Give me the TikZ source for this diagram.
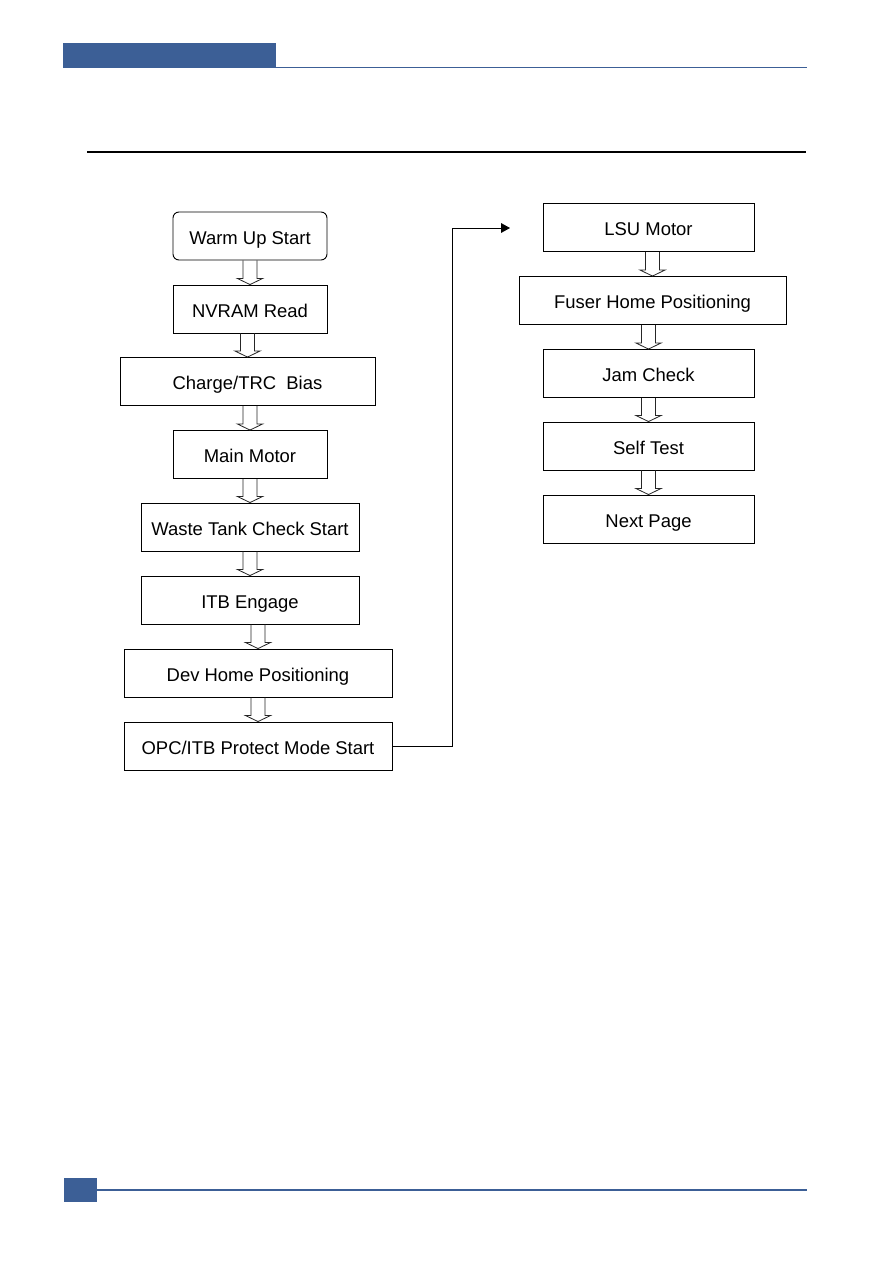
\documentclass[tikz,border=0pt]{standalone}
\usepackage{fontspec}
\setmainfont{Liberation Sans}
\usetikzlibrary{positioning,arrows.meta,calc}

\definecolor{hdrblue}{RGB}{60,95,150}
\newcommand{\px}{0.6667pt}
% hollow down arrow between two stacked boxes
\newcommand{\hollowstep}[2]{%
  \draw[hollow] let \p1=(#1.south), \p2=(#2.north) in
    (\x2-4.7pt,\y1) -- (\x2-4.7pt,\y2+4pt) -- (\x2-8.3pt,\y2+4pt) -- (\x2,\y2)
    -- (\x2+8.3pt,\y2+4pt) -- (\x2+4.7pt,\y2+4pt) -- (\x2+4.7pt,\y1);}

\begin{document}
\begin{tikzpicture}[
  x=0.6667pt,y=-0.6667pt,
  font=\fontsize{12.3}{14}\selectfont,
  stepbox/.style={draw=black,line width=.6pt,inner sep=0pt,minimum height=48*\px,
    text height=12pt,text depth=.8pt},
  startbox/.style={stepbox,rounded corners=4pt},
  hollow/.style={black!85,line width=.55pt},
  link/.style={-{Triangle[length=6pt,width=6.5pt]},black,line width=.6pt}
]
\useasboundingbox (0,0) rectangle (893,1263);
% page header and footer
\fill[hdrblue] (63,43) rectangle (276,68);
\draw[hdrblue,line width=1.3pt] (276,67.5) -- (807,67.5);
\draw[black,line width=.7pt] (87,152) -- (806,152);
\fill[hdrblue] (64,1178) rectangle (97,1202);
\draw[hdrblue,line width=1.3pt] (97,1190) -- (807,1190);

% left column
\node[startbox,minimum width=154*\px] (warm) at (250,236) {Warm Up Start};
\node[stepbox,minimum width=154*\px] (nvram) at (250,309) {NVRAM Read};
\node[stepbox,minimum width=255*\px] (charge) at (247.5,381.5) {Charge/TRC\ \ Bias};
\node[stepbox,minimum width=154*\px] (mainmotor) at (250,454.5) {Main\ Motor};
\node[stepbox,minimum width=218*\px] (waste) at (250,527) {Waste Tank Check Start};
\node[stepbox,minimum width=218*\px] (itb) at (250,600) {ITB Engage};
\node[stepbox,minimum width=268*\px] (devhome) at (258,673) {Dev Home Positioning};
\node[stepbox,minimum width=268*\px] (opc) at (258,746) {OPC/ITB Protect Mode Start};

% right column
\node[stepbox,minimum width=211*\px] (lsu) at (648.5,227.5) {LSU Motor};
\node[stepbox,minimum width=267*\px] (fuser) at (652.5,300.5) {Fuser Home Positioning};
\node[stepbox,minimum width=211*\px] (jam) at (648.5,373.5) {Jam\ Check};
\node[stepbox,minimum width=211*\px] (selftest) at (648.5,446) {Self\ Test};
\node[stepbox,minimum width=211*\px] (nextpage) at (648.5,519) {Next Page};

\hollowstep{warm}{nvram}
\hollowstep{nvram}{charge}
\hollowstep{charge}{mainmotor}
\hollowstep{mainmotor}{waste}
\hollowstep{waste}{itb}
\hollowstep{itb}{devhome}
\hollowstep{devhome}{opc}
\hollowstep{lsu}{fuser}
\hollowstep{fuser}{jam}
\hollowstep{jam}{selftest}
\hollowstep{selftest}{nextpage}

\coordinate (bend) at (452,228);
\coordinate (lsuin) at (510,228);
\draw[link] (opc.east) -| (bend) -- (lsuin);
\end{tikzpicture}
\end{document}
